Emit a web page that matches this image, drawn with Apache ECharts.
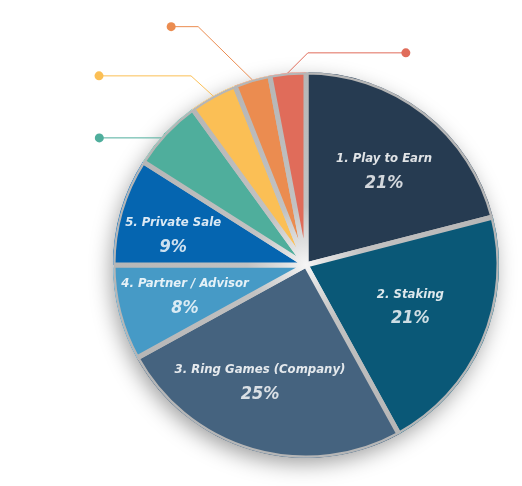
<!DOCTYPE html>
<html>
<head>
<meta charset="utf-8">
<script src="https://cdn.jsdelivr.net/npm/echarts@6/dist/echarts.min.js"></script>
<style>
  html, body { margin: 0; padding: 0; background: #fff; }
  #chart { width: 522px; height: 486px; }
</style>
</head>
<body>
<div id="chart"></div>
<script>
// slices, clockwise from 12 o'clock
const names = ['1. Play to Earn', '2. Staking', '3. Ring Games (Company)', '4. Partner / Advisor', '5. Private Sale', '6', '7', '8', '9']
const values = [21, 21, 25, 8, 9, 6, 4, 3, 3]
const colors = ['#263b51', '#0a5877', '#45637f', '#469ac6', '#0565b0', '#4fae9c', '#fbbf55', '#eb8c50', '#e06c5a']
// leader line shape for the small slices: [bend dx, bend dy, end dx, end dy]
const leaders = {
  5: [-3, 5, -66, 5],
  6: [-22, -20, -114, -20],
  7: [-54, -53, -81, -53],
  8: [20, -20, 118, -20]
}
// small nudges of the inside labels
const labelNudge = [[-1, 8], [-14, -10], [-10, -7], [4, -1], [-9, 6]]

const textFont = 'DejaVu Sans Condensed'
const cx = 306
const cy = 265
const R = 193

// grey gaps between slices, lighter toward the middle,
// fading out right at the rim so the border leaves no outline
const gapR = R + 4
const rim = R / gapR
const gapColor = {
  type: 'radial',
  x: cx,
  y: cy,
  r: gapR,
  global: true,
  colorStops: [
    { offset: 0, color: '#f6f6f6' },
    { offset: 0.1, color: '#e2e2e2' },
    { offset: 0.3, color: '#c2c2c2' },
    { offset: rim - 0.004, color: '#b6b6b6' },
    { offset: rim, color: 'rgba(255,255,255,0)' },
    { offset: 1, color: 'rgba(255,255,255,0)' }
  ]
}

let myChart = echarts.init(document.getElementById('chart'))

let mainData = values.map((v, i) => {
  let small = leaders[i] !== undefined
  return {
    name: names[i],
    value: v,
    itemStyle: { color: colors[i] },
    label: {
      show: small,
      formatter: '{d|}',
      rich: {
        d: { width: 9, height: 9, borderRadius: 5, backgroundColor: colors[i] }
      }
    },
    labelLine: {
      show: small,
      lineStyle: { color: colors[i], width: 1 }
    }
  }
})

let labelData = values.map((v, i) => {
  return {
    name: names[i],
    value: v,
    label: { show: i < 5 }
  }
})

myChart.setOption({
  animation: false,
  series: [{
    // soft drop shadow under the whole pie
    type: 'pie',
    center: [cx, cy],
    radius: [0, R - 2],
    silent: true,
    z: 1,
    itemStyle: {
      color: '#ffffff',
      shadowBlur: 22,
      shadowOffsetX: -3,
      shadowOffsetY: 7,
      shadowColor: 'rgba(0,0,0,0.4)'
    },
    label: { show: false },
    labelLine: { show: false },
    emphasis: { disabled: true },
    data: [{ value: 1, name: 'shadow' }]
  }, {
    type: 'pie',
    center: [cx, cy],
    radius: [0, R],
    startAngle: 90,
    clockwise: true,
    silent: true,
    z: 2,
    itemStyle: {
      borderColor: gapColor,
      borderWidth: 5
    },
    label: { position: 'outside' },
    labelLine: { length: 20, length2: 20 },
    labelLayout: function (params) {
      let lk = leaders[params.dataIndex]
      if (!lk || !params.labelLinePoints) return {}
      let s = params.labelLinePoints[0]
      let end = [s[0] + lk[2], s[1] + lk[3]]
      return {
        x: end[0],
        y: end[1],
        align: 'center',
        verticalAlign: 'middle',
        labelLinePoints: [s, [s[0] + lk[0], s[1] + lk[1]], end]
      }
    },
    emphasis: { disabled: true },
    data: mainData
  }, {
    type: 'pie',
    center: [cx, cy],
    radius: [0, 252],
    startAngle: 90,
    clockwise: true,
    silent: true,
    z: 5,
    itemStyle: { color: 'rgba(0,0,0,0)', borderWidth: 0 },
    label: {
      position: 'inside',
      formatter: function (p) {
        return '{n|' + p.name + '}\n{p|' + p.value + '%}'
      },
      rich: {
        n: {
          fontFamily: textFont,
          fontWeight: 'bold',
          fontStyle: 'italic',
          fontSize: 13,
          color: 'rgba(255,255,255,0.86)',
          lineHeight: 24,
          align: 'center'
        },
        p: {
          fontFamily: textFont,
          fontWeight: 'bold',
          fontStyle: 'italic',
          fontSize: 18,
          color: 'rgba(255,255,255,0.8)',
          lineHeight: 24,
          align: 'center'
        }
      }
    },
    labelLayout: function (params) {
      let n = labelNudge[params.dataIndex]
      if (!n) return {}
      return { dx: n[0], dy: n[1] }
    },
    labelLine: { show: false },
    emphasis: { disabled: true },
    data: labelData
  }]
})
</script>
</body>
</html>
